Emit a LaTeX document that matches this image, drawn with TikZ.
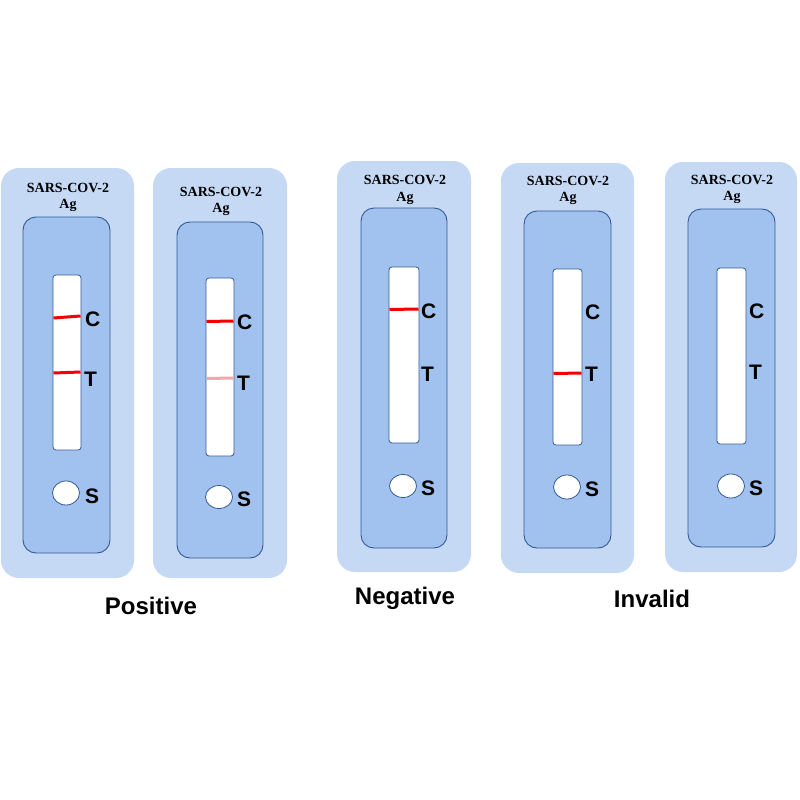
\documentclass[tikz,border=0pt]{standalone}
\usepackage{fontspec}
\setmainfont{Liberation Sans}
\newfontfamily\serifbold{Liberation Serif}
\definecolor{outerblue}{RGB}{197,217,245}
\definecolor{innerblue}{RGB}{161,193,238}
\definecolor{edgeblue}{RGB}{52,90,150}
\definecolor{lineRed}{RGB}{245,0,0}
\definecolor{linePink}{RGB}{240,165,175}
\tikzset{
  outerbox/.style={fill=outerblue, draw=none, rounded corners=18pt},
  innerbox/.style={fill=innerblue, draw=edgeblue, line width=0.9pt, rounded corners=13pt},
  stripbox/.style={fill=white, draw=edgeblue, line width=0.8pt, rounded corners=3pt},
  well/.style={fill=white, draw=edgeblue, line width=0.8pt},
  redband/.style={draw=lineRed, line width=3pt},
  pinkband/.style={draw=linePink, line width=3pt},
  lbl/.style={anchor=west, inner sep=0pt, font=\fontsize{21}{21}\selectfont\bfseries},
  ttl/.style={inner sep=0pt, font=\serifbold\fontsize{14}{14}\selectfont\bfseries},
  result/.style={anchor=base, inner sep=0pt, font=\fontsize{24}{24}\selectfont\bfseries},
}
\begin{document}
\begin{tikzpicture}[x=1pt,y=-1pt]
\useasboundingbox (0,0) rectangle (800,800);
% ---------- cassette 1 ----------
\fill[outerbox] (1,168) rectangle (134,578);
\draw[innerbox] (23,217) rectangle (110,553);
\draw[stripbox] (53,275) rectangle (81,450);
\draw[redband] (53.5,318) -- (80.5,316);
\draw[redband] (53.5,373) -- (80.5,372);
\node[ttl] (t1a) at (68,188) {SARS-COV-2};
\node[ttl] (t1b) at (68,205) {Ag};
\node[lbl] (c1) at (85,319) {C};
\node[lbl] (T1) at (84,379) {T};
\draw[well] (66,493) ellipse (13.5 and 12);
\node[lbl] (s1) at (85,496) {S};
% ---------- cassette 2 ----------
\fill[outerbox] (153,168) rectangle (287,578);
\draw[innerbox] (177,222) rectangle (263,558);
\draw[stripbox] (206,278) rectangle (234,456);
\draw[redband] (206.5,321.5) -- (233.5,321);
\draw[pinkband] (206.5,378.5) -- (233.5,378);
\node[ttl] (t2a) at (221,192) {SARS-COV-2};
\node[ttl] (t2b) at (221,209) {Ag};
\node[lbl] (c2) at (237,322) {C};
\node[lbl] (T2) at (237,383) {T};
\draw[well] (219,497) ellipse (13.5 and 11.5);
\node[lbl] (s2) at (237,499) {S};
% ---------- cassette 3 ----------
\fill[outerbox] (337,161) rectangle (471,572);
\draw[innerbox] (361,208) rectangle (447,548);
\draw[stripbox] (389,267) rectangle (419,443);
\draw[redband] (389.5,309.5) -- (418.5,309);
\node[ttl] (t3a) at (405,180) {SARS-COV-2};
\node[ttl] (t3b) at (405,198) {Ag};
\node[lbl] (c3) at (421,311) {C};
\node[lbl] (T3) at (421,374) {T};
\draw[well] (403,486) ellipse (13.5 and 11.5);
\node[lbl] (s3) at (421,488) {S};
% ---------- cassette 4 ----------
\fill[outerbox] (501,163) rectangle (634,573);
\draw[innerbox] (524,211) rectangle (611,548);
\draw[stripbox] (553,269) rectangle (582,445);
\draw[redband] (553.5,373.5) -- (581.5,373);
\node[ttl] (t4a) at (568,181) {SARS-COV-2};
\node[ttl] (t4b) at (568,198) {Ag};
\node[lbl] (c4) at (585,312) {C};
\node[lbl] (T4) at (585,374) {T};
\draw[well] (567,487) ellipse (13.5 and 12);
\node[lbl] (s4) at (585,489) {S};
% ---------- cassette 5 ----------
\fill[outerbox] (665,162) rectangle (797,572);
\draw[innerbox] (688,209) rectangle (775,547);
\draw[stripbox] (717,268) rectangle (746,444);
\node[ttl] (t5a) at (732,180) {SARS-COV-2};
\node[ttl] (t5b) at (732,197) {Ag};
\node[lbl] (c5) at (749,311) {C};
\node[lbl] (T5) at (749,372) {T};
\draw[well] (731,486) ellipse (13.5 and 12);
\node[lbl] (s5) at (749,488) {S};
% ---------- results ----------
\node[result] (pos) at (151,614) {Positive};
\node[result] (neg) at (405,604) {Negative};
\node[result] (inv) at (652,607) {Invalid};
\end{tikzpicture}
\end{document}
